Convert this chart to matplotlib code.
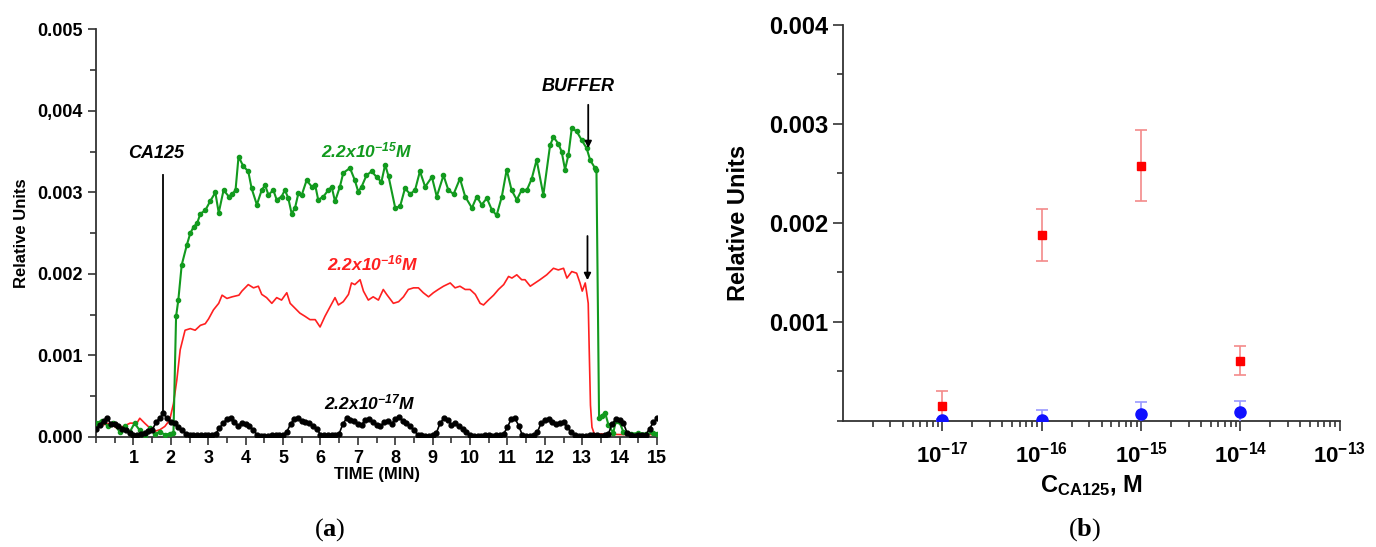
import numpy as np
import matplotlib
matplotlib.use("Agg")
import matplotlib.pyplot as plt
from matplotlib.ticker import MultipleLocator, FixedLocator, FuncFormatter, LogLocator, NullFormatter

plt.rcParams['font.family'] = ['Liberation Sans', 'DejaVu Sans']
plt.rcParams['font.weight'] = 'bold'
plt.rcParams['mathtext.fontset'] = 'custom'
plt.rcParams['mathtext.rm'] = 'Liberation Sans:bold:italic'
plt.rcParams['mathtext.bf'] = 'Liberation Sans:bold'
plt.rcParams['mathtext.it'] = 'Liberation Sans:bold:italic'
plt.rcParams['mathtext.sf'] = 'Liberation Serif:bold'

# ---- panel (a): sensor response vs time (values in 1e-4 relative units)
t_green = [0.0, 0.15, 0.33, 0.46, 0.64, 0.77, 0.90, 1.03, 1.17, 1.30, 1.44, 1.57, 1.71, 1.84, 1.97, 2.07,
           2.14, 2.20, 2.29, 2.43, 2.52, 2.61, 2.70, 2.79, 2.92, 3.06, 3.19, 3.28, 3.41, 3.55, 3.64, 3.73,
           3.81, 3.94, 4.07, 4.16, 4.30, 4.43, 4.52, 4.61, 4.74, 4.83, 4.96, 5.05, 5.14, 5.23, 5.32, 5.41,
           5.50, 5.63, 5.77, 5.86, 5.94, 6.08, 6.21, 6.30, 6.39, 6.52, 6.61, 6.79, 6.92, 7.01, 7.10, 7.23,
           7.37, 7.50, 7.63, 7.73, 7.82, 8.00, 8.13, 8.26, 8.40, 8.53, 8.66, 8.80, 8.98, 9.11, 9.29, 9.42,
           9.56, 9.73, 9.87, 10.05, 10.18, 10.31, 10.45, 10.58, 10.71, 10.85, 10.98, 11.11, 11.25, 11.38,
           11.52, 11.65, 11.78, 11.96, 12.14, 12.23, 12.36, 12.45, 12.54, 12.63, 12.72, 12.85, 12.99, 13.12,
           13.21, 13.34, 13.38, 13.45, 13.52, 13.61, 13.70, 13.83, 13.90, 14.00, 14.10, 14.30, 14.50, 14.70,
           14.90, 15.0]
v_green = [1.7, 2.0, 1.3, 1.7, 0.6, 1.3, 0.6, 1.7, 0.8, 0.3, 1.1, 0.4, 0.6, 0.3, 0.4, 0.5,
           14.8, 16.8, 21.1, 23.6, 25.0, 25.8, 26.2, 27.4, 27.8, 29.0, 30.0, 27.5, 30.3, 29.5, 29.8, 30.3,
           34.4, 33.2, 32.6, 30.5, 28.5, 30.3, 30.9, 29.7, 30.3, 29.1, 29.5, 30.3, 29.3, 27.4, 28.1, 29.9,
           29.7, 31.5, 30.7, 30.9, 29.1, 29.5, 30.3, 30.7, 28.9, 30.7, 32.4, 33.0, 31.5, 30.1, 30.7, 32.1,
           32.6, 31.9, 31.3, 33.4, 32.0, 28.1, 28.3, 30.5, 29.8, 30.3, 32.6, 30.7, 31.9, 29.5, 32.1, 30.3,
           29.8, 31.7, 29.5, 28.1, 29.5, 28.5, 29.3, 27.9, 27.2, 29.5, 32.8, 30.3, 29.1, 30.3,
           30.3, 31.7, 34.0, 29.7, 35.8, 36.8, 36.0, 35.0, 32.8, 34.6, 37.9, 37.5, 36.4, 35.4,
           34.0, 33.0, 32.8, 2.3, 2.6, 3.0, 1.5, 0.5, 2.0, 1.8, 0.6, 0.4, 0.5, 0.4,
           0.5, 0.4]

t_red = [0.02, 0.2, 0.37, 0.55, 0.73, 0.91, 1.09, 1.17, 1.3, 1.44, 1.57, 1.71, 1.84, 1.97, 2.07, 2.16,
         2.25, 2.38, 2.52, 2.65, 2.79, 2.92, 3.01, 3.14, 3.28, 3.37, 3.50, 3.64, 3.82, 3.90, 4.07, 4.21,
         4.34, 4.43, 4.56, 4.70, 4.83, 4.96, 5.10, 5.19, 5.32, 5.45, 5.59, 5.72, 5.86, 5.99, 6.12, 6.26,
         6.39, 6.48, 6.61, 6.75, 6.83, 6.92, 7.06, 7.15, 7.28, 7.41, 7.55, 7.68, 7.77, 7.95, 8.09, 8.22,
         8.35, 8.49, 8.62, 8.75, 8.89, 9.02, 9.15, 9.29, 9.47, 9.60, 9.73, 9.87, 10.0, 10.14, 10.27, 10.36,
         10.49, 10.63, 10.76, 10.90, 11.03, 11.12, 11.25, 11.38, 11.47, 11.61, 11.74, 11.87, 12.05, 12.23,
         12.36, 12.50, 12.59, 12.72, 12.85, 12.94, 13.0, 13.08, 13.12, 13.16, 13.19, 13.22, 13.26, 13.32,
         14.0, 15.0]
v_red = [1.8, 1.5, 1.7, 1.1, 1.3, 1.7, 1.7, 2.3, 1.7, 1.1, 0.7, 0.9, 1.3, 2.1, 4.1, 7.0,
         10.7, 13.1, 13.3, 13.1, 13.7, 13.9, 14.5, 15.6, 16.4, 17.4, 17.0, 17.2, 17.4, 17.9, 18.7, 18.3,
         18.5, 17.5, 17.1, 16.4, 17.1, 16.8, 17.7, 16.4, 15.8, 15.2, 14.8, 14.4, 14.4, 13.5, 14.8, 16.0,
         17.1, 16.2, 16.6, 17.5, 18.9, 18.7, 19.3, 17.9, 16.8, 17.2, 16.8, 18.1, 17.5, 16.4, 16.6, 17.2,
         18.1, 18.3, 18.3, 17.7, 17.2, 17.7, 18.1, 18.5, 18.9, 18.3, 18.5, 18.1, 18.1, 17.5, 16.4, 16.2,
         16.8, 17.4, 18.1, 18.7, 19.7, 19.5, 19.9, 19.3, 19.3, 18.5, 18.9, 19.3, 19.9, 20.7,
         20.5, 20.7, 19.5, 20.3, 20.1, 18.9, 17.9, 18.9, 17.7, 16.4, 10.0, 3.9, 1.2, 0.4,
         0.3, 0.3]

t_black = np.arange(0, 151) / 10
v_black = [1.0, 1.5, 2.0, 2.3, 1.6, 1.6, 1.4, 1.0, 0.8, 0.5, 0.3, 0.2, 0.4, 0.5, 0.7, 0.8, 1.8, 2.3, 2.9, 2.3,
           1.9, 1.7, 1.2, 0.8, 0.4, 0.2, 0.2, 0.2, 0.2, 0.2, 0.2, 0.3, 0.4, 1.1, 1.7, 2.2, 2.3, 1.9, 1.4, 1.7,
           1.6, 1.3, 0.9, 0.3, 0.1, 0.1, 0.1, 0.2, 0.2, 0.2, 0.3, 0.6, 1.6, 2.2, 2.3, 2.0, 1.8, 1.7, 1.4, 1.0,
           0.3, 0.2, 0.2, 0.2, 0.3, 0.4, 1.6, 2.3, 2.1, 2.0, 1.6, 1.5, 2.1, 2.2, 1.9, 1.5, 1.3, 1.8, 2.0, 1.6,
           2.2, 2.4, 2.0, 1.7, 1.3, 0.8, 0.3, 0.2, 0.1, 0.1, 0.2, 0.5, 1.7, 2.3, 2.1, 1.5, 1.7, 1.3, 1.0, 0.6,
           0.3, 0.1, 0.1, 0.1, 0.2, 0.2, 0.1, 0.2, 0.3, 0.4, 1.2, 2.2, 2.3, 1.4, 0.2, 0.1, 0.1, 0.2, 0.6, 1.7,
           2.1, 2.2, 1.9, 1.6, 1.7, 1.8, 1.2, 0.6, 0.3, 0.1, 0.1, 0.1, 0.2, 0.2, 0.2, 0.1, 0.2, 0.4, 1.6, 2.2,
           2.1, 1.7, 0.5, 0.2, 0.1, 0.2, 0.2, 0.3, 1.0, 1.8, 2.3]

a_yticks = [0, 0.001, 0.002, 0.003, 0.004, 0.005]
a_ylabels = ['0.000', '0.001', '0.002', '0.003', '0,004', '0.005']

# ---- panel (b): response vs concentration
conc = [1e-17, 1e-16, 1e-15, 1e-14]
red_vals = [0.000155, 0.00188, 0.00258, 0.00061]
red_err = [0.00015, 0.00026, 0.00036, 0.00015]
blue_vals = [0.00001, 0.00001, 0.000075, 0.00009]
blue_err = [0.00001, 0.0001, 0.000115, 0.00011]

fig = plt.figure(figsize=(13.76, 5.47), dpi=100)
ax1 = fig.add_axes([0.0698, 0.2011, 0.4077, 0.745])
ax2 = fig.add_axes([0.6127, 0.2304, 0.3610, 0.7239])

green = '#129a1e'
red = '#ff2020'

s = 1e-4
ax1.plot(t_red, np.array(v_red) * s, color=red, lw=1.2, zorder=2)
ax1.plot(t_green, np.array(v_green) * s, color=green, lw=1.5, marker='o', ms=3, zorder=3)
ax1.plot(t_black, np.array(v_black) * s, color='black', lw=1.2, marker='o', ms=3.5, zorder=4)

ax1.set_xlim(0, 15)
ax1.set_ylim(0, 0.005)
ax1.xaxis.set_major_locator(FixedLocator(range(1, 16)))
ax1.xaxis.set_minor_locator(MultipleLocator(0.5))
ax1.set_yticks(a_yticks)
ax1.set_yticklabels(a_ylabels)
ax1.yaxis.set_minor_locator(MultipleLocator(0.0005))
ax1.tick_params(which='both', direction='out', labelsize=13, width=1.2, color='#333333')
ax1.tick_params(which='major', length=6)
ax1.tick_params(which='minor', length=4)
ax1.set_xlabel('TIME (MIN)', fontsize=12, fontweight='bold', labelpad=0)
ax1.set_ylabel('Relative Units', fontsize=12, fontweight='bold', labelpad=6)
for sp in ['top', 'right']:
    ax1.spines[sp].set_visible(False)
for sp in ['left', 'bottom']:
    ax1.spines[sp].set_linewidth(1.3)
    ax1.spines[sp].set_color('#333333')

# annotations
ax1.plot([1.78, 1.78], [0.00321, 0.00028], color='black', lw=1.3, zorder=5)
ax1.text(1.6, 0.00337, 'CA125', fontsize=13, fontweight='bold', style='italic', ha='center', va='bottom')
ax1.annotate('', xy=(13.16, 0.00351), xytext=(13.16, 0.00411),
             arrowprops=dict(arrowstyle='-|>', color='black', lw=1.3, mutation_scale=10))
ax1.text(12.9, 0.00420, 'BUFFER', fontsize=13, fontweight='bold', style='italic', ha='center', va='bottom')
ax1.annotate('', xy=(13.14, 0.00189), xytext=(13.14, 0.0025),
             arrowprops=dict(arrowstyle='-|>', color='black', lw=1.3, mutation_scale=10))
ax1.text(7.24, 0.00352, r'$\mathrm{2.2x10^{-15}M}$', color=green, fontsize=12.5, ha='center', va='center')
ax1.text(7.4, 0.00213, r'$\mathrm{2.2x10^{-16}M}$', color=red, fontsize=12.5, ha='center', va='center')
ax1.text(7.33, 0.00043, r'$\mathrm{2.2x10^{-17}M}$', color='black', fontsize=12.5, ha='center', va='center')

# panel (b)
ax2.errorbar(conc, red_vals, yerr=red_err, fmt='s', color='#ff0000', ms=6,
             ecolor='#f48a8a', elinewidth=1.2, capsize=4, capthick=1.2, zorder=3)
ax2.errorbar(conc, blue_vals, yerr=blue_err, fmt='o', color='#1010ff', ms=8,
             ecolor='#9a9aff', elinewidth=1.2, capsize=4, capthick=1.2, zorder=3)
ax2.set_xscale('log')
ax2.set_xlim(1e-18, 1e-13)
ax2.set_ylim(0, 0.004)
ax2.xaxis.set_major_locator(FixedLocator([1e-17, 1e-16, 1e-15, 1e-14, 1e-13]))
ax2.xaxis.set_major_formatter(FuncFormatter(lambda v, p: r'$\mathbf{10^{%d}}$' % round(np.log10(v))))
ax2.xaxis.set_minor_locator(LogLocator(base=10, subs=np.arange(2, 10), numticks=20))
ax2.xaxis.set_minor_formatter(NullFormatter())
ax2.set_yticks([0.001, 0.002, 0.003, 0.004])
ax2.set_yticklabels(['0.001', '0.002', '0.003', '0.004'])
ax2.yaxis.set_minor_locator(MultipleLocator(0.0005))
ax2.tick_params(which='both', direction='out', labelsize=17, width=1.2, color='#333333')
ax2.tick_params(axis='x', labelsize=16)
ax2.tick_params(which='major', length=7)
ax2.tick_params(which='minor', length=4)
ax2.tick_params(axis='x', pad=8)
ax2.set_xlabel(r'$\mathbf{C_{CA125}}$, M', fontsize=17, fontweight='bold', labelpad=4)
ax2.set_ylabel('Relative Units', fontsize=17, fontweight='bold', labelpad=14)
for sp in ['top', 'right']:
    ax2.spines[sp].set_visible(False)
for sp in ['left', 'bottom']:
    ax2.spines[sp].set_linewidth(1.3)
    ax2.spines[sp].set_color('#333333')

# captions
fig.text(330 / 1376, 1 - 530 / 547, r'($\mathsf{a}$)', family='Liberation Serif', fontweight='normal',
         fontsize=19, ha='center', va='center')
fig.text(1085 / 1376, 1 - 530 / 547, r'($\mathsf{b}$)', family='Liberation Serif', fontweight='normal',
         fontsize=19, ha='center', va='center')

plt.savefig('out.png', dpi=100)
